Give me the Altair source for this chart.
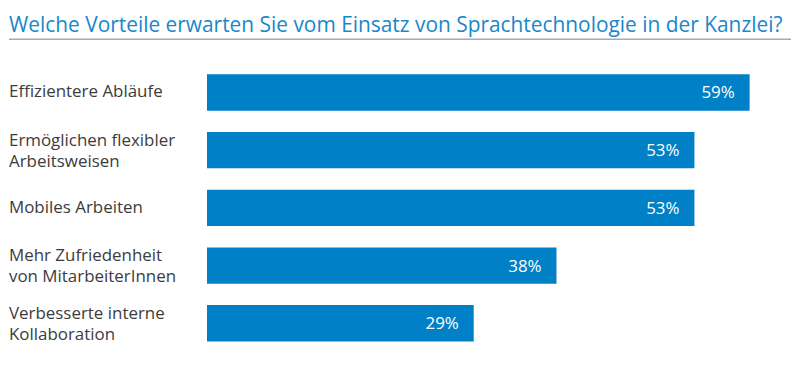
import altair as alt
import pandas as pd

title_text = "Welche Vorteile erwarten Sie vom Einsatz von Sprachtechnologie in der Kanzlei?"
categories = [
    "Effizientere Abläufe",
    "Ermöglichen flexibler\nArbeitsweisen",
    "Mobiles Arbeiten",
    "Mehr Zufriedenheit\nvon MitarbeiterInnen",
    "Verbesserte interne\nKollaboration",
]
values = [59, 53, 53, 38, 29]

FONT = "Open Sans"
BAR = "#0080c6"
TITLE_C = "#1a87c9"
LABEL_C = "#3c3c3c"

df = pd.DataFrame({"cat": categories, "value": values})
one = pd.DataFrame({"k": [0]})

W = 587
H = 290
LEFT = -199

y = alt.Y("cat:N", sort=categories, axis=None,
          scale=alt.Scale(domain=categories, paddingInner=0.37, paddingOuter=0.185))
x = alt.X("value:Q", axis=None, scale=alt.Scale(domain=[0, 63.5], nice=False, zero=True))

bars = alt.Chart(df).mark_bar(color=BAR).encode(x=x, y=y)

pct = alt.Chart(df).transform_calculate(
    lbl="datum.value + '%'"
).mark_text(align="right", baseline="middle", dx=-15, dy=1, color="white",
            font=FONT, fontSize=17).encode(x=x, y=y, text="lbl:N")

label_style = dict(align="left", baseline="middle", lineBreak="\n", lineHeight=21,
                   color=LABEL_C, font=FONT, fontSize=17)

labels1 = alt.Chart(df).transform_filter(
    "indexof(datum.cat, '\\n') < 0"
).mark_text(**label_style).encode(x=alt.value(LEFT), y=y, text="cat:N")

labels2 = alt.Chart(df).transform_filter(
    "indexof(datum.cat, '\\n') >= 0"
).mark_text(dy=-9.5, **label_style).encode(x=alt.value(LEFT), y=y, text="cat:N")

title = alt.Chart(one).mark_text(align="left", baseline="alphabetic", color=TITLE_C,
                                 font=FONT, fontSize=21, text=title_text).encode(
    x=alt.value(LEFT), y=alt.value(-31.5))

rule = alt.Chart(one).mark_rule(color="#aaaaaa", strokeWidth=1.5).encode(
    x=alt.value(LEFT), x2=alt.value(W), y=alt.value(-24.5))

chart = alt.layer(rule, title, bars, pct, labels1, labels2).properties(
    width=W, height=H, padding={"top": 6, "left": 0, "right": 0, "bottom": 0}
).configure_view(stroke=None)

chart.save("out.html", embed_options={"renderer": "svg", "actions": False})
